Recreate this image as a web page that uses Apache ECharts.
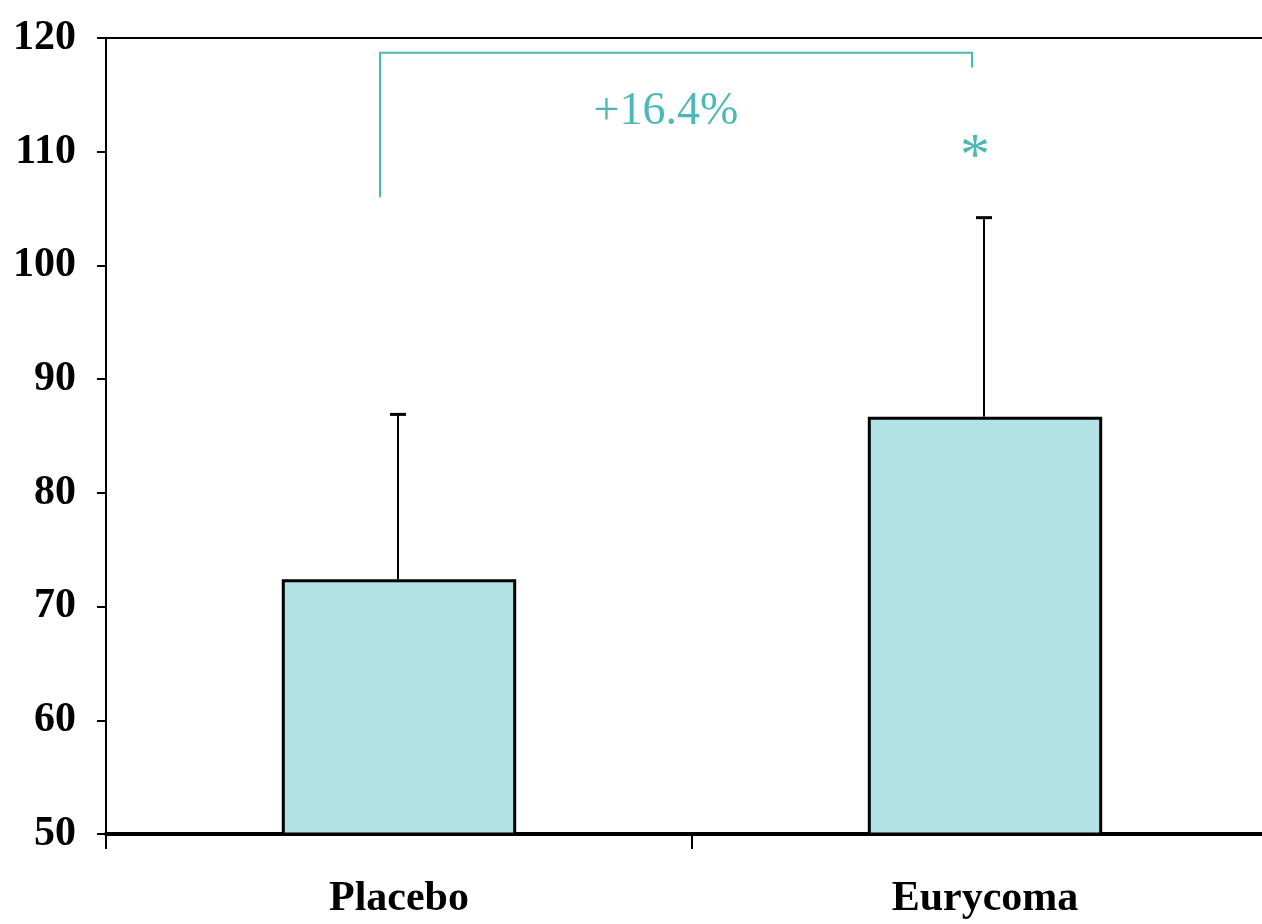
<!DOCTYPE html>
<html><head><meta charset="utf-8">
<script src="https://cdn.jsdelivr.net/npm/echarts@6/dist/echarts.min.js"></script>
<style>html,body{margin:0;padding:0;background:#fff}#c{width:1262px;height:924px}</style>
</head><body><div id="c"></div>
<script>
const categories = ['Placebo', 'Eurycoma'];
const means = [72.4, 86.7];
const errorTops = [86.9, 104.2];
const yTicks = [50, 60, 70, 80, 90, 100, 110, 120];
const bracketLabel = '+16.4%';
const bracketTop = 118.7;
const bracketLeftEnd = 106.0;
const bracketRightEnd = 117.4;
const labelValue = 113.5;
const starValue = 109.4;

const teal = '#4DB8B8';
const serif = '"Liberation Serif", "Times New Roman", serif';
const chart = echarts.init(document.getElementById('c'));

chart.setOption({
  animation: false,
  backgroundColor: '#fff',
  grid: { left: 106, top: 38, width: 1172, height: 796, containLabel: false, outerBoundsMode: 'none' },
  xAxis: [{
    type: 'category', data: categories, boundaryGap: true,
    axisLine: { lineStyle: { color: '#000', width: 4 } },
    axisTick: { show: true, length: 15, inside: false, lineStyle: { color: '#000', width: 2 } },
    axisLabel: { color: '#000', fontFamily: serif, fontWeight: 'bold', fontSize: 42, margin: 44 }
  }, {
    type: 'category', data: categories, position: 'top',
    axisLine: { show: true, onZero: false, lineStyle: { color: '#000', width: 2 } },
    axisTick: { show: false }, axisLabel: { show: false }
  }],
  yAxis: {
    type: 'value', min: yTicks[0], max: yTicks[yTicks.length - 1], interval: 10,
    axisLine: { show: true, lineStyle: { color: '#000', width: 2 } },
    axisTick: { show: true, length: 9, lineStyle: { color: '#000', width: 2 } },
    splitLine: { show: false },
    axisLabel: { color: '#000', fontFamily: serif, fontWeight: 'bold', fontSize: 42, margin: 30 }
  },
  series: [{
    type: 'bar', data: means, barWidth: '40%', z: 2,
    itemStyle: { color: '#B2E2E3', borderColor: '#000', borderWidth: 3 }
  }, {
    type: 'custom', z: 3,
    data: categories.map((c, i) => [i, means[i], errorTops[i]]),
    renderItem: function (params, api) {
      const b = api.coord([api.value(0), api.value(1)]);
      const t = api.coord([api.value(0), api.value(2)]);
      const x = b[0] - 1;
      return { type: 'group', children: [
        { type: 'line', shape: { x1: x, y1: b[1], x2: x, y2: t[1] }, style: { stroke: '#000', lineWidth: 2 } },
        { type: 'line', shape: { x1: x - 8, y1: t[1], x2: x + 8, y2: t[1] }, style: { stroke: '#000', lineWidth: 3 } }
      ]};
    }
  }, {
    type: 'custom', z: 4,
    data: [[0, 1, bracketTop, bracketLeftEnd, bracketRightEnd, labelValue, starValue]],
    renderItem: function (params, api) {
      const l = api.coord([0, api.value(2)]);
      const r = api.coord([1, api.value(2)]);
      const lb = api.coord([0, api.value(3)]);
      const rb = api.coord([1, api.value(4)]);
      const lab = api.coord([0, api.value(5)]);
      const st = api.coord([1, api.value(6)]);
      const xl = l[0] - 19, xr = r[0] - 13;
      return { type: 'group', children: [
        { type: 'polyline', shape: { points: [[xl, lb[1]], [xl, l[1]], [xr, l[1]], [xr, rb[1]]] },
          style: { stroke: teal, lineWidth: 2, fill: null } },
        { type: 'text', x: (xl + xr) / 2 - 10, y: lab[1],
          style: { text: bracketLabel, fill: teal, font: '46px ' + serif, align: 'center', verticalAlign: 'middle' } },
        { type: 'text', x: xr + 3, y: st[1],
          style: { text: '*', fill: teal, font: '60px ' + serif, align: 'center', verticalAlign: 'middle' } }
      ]};
    }
  }]
});
</script></body></html>
